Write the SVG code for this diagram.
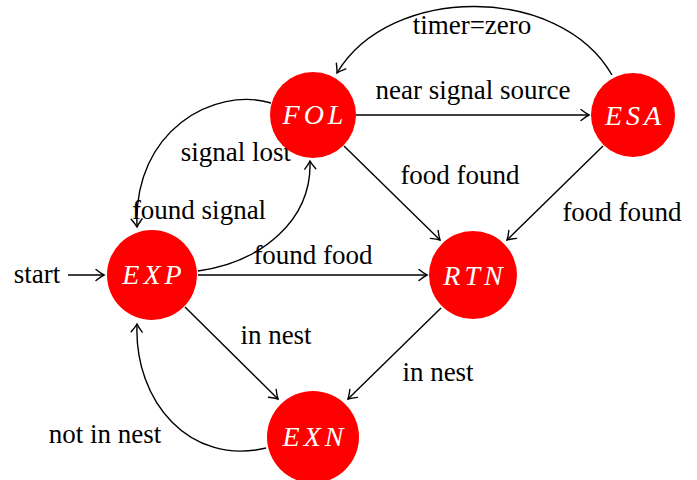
<svg xmlns="http://www.w3.org/2000/svg" width="697" height="480" viewBox="0 0 697 480">
<style>
.n{fill:#ff0000}
.nt{fill:#fff;font-family:'Liberation Serif',serif;font-style:italic;font-size:28px;letter-spacing:4px;text-anchor:middle}
.e{fill:none;stroke:#000;stroke-width:1.4;marker-end:url(#a)}
.l{fill:#000;font-family:'Liberation Serif',serif;font-size:27px;text-anchor:middle}
</style>
<defs>
<marker id="a" markerUnits="userSpaceOnUse" markerWidth="14" markerHeight="14" viewBox="-10 -7 12 14" refX="0" refY="0" orient="auto">
<path d="M-8,-5.5 Q-3,-1.5 0,0 Q-3,1.5 -8,5.5" fill="none" stroke="#000" stroke-width="1.4" stroke-linecap="round"/>
</marker>
</defs>
<g id="edges">
<path class="e" d="M68,275 L104,275"/>
<path class="e" d="M198,275 L427,275"/>
<path class="e" d="M198,271 C262,262 312,220 310,161"/>
<path class="e" d="M271,103 C215,86 133,130 137,227"/>
<path class="e" d="M356,115 L589,115"/>
<path class="e" d="M612,75 C560,-16 390,-16 337,73"/>
<path class="e" d="M344,146 L440,240"/>
<path class="e" d="M603,146 L507,240"/>
<path class="e" d="M185,307 L278,399"/>
<path class="e" d="M441,308 L348,399"/>
<path class="e" d="M266,448 C190,466 134,402 137,324"/>
</g>
<g id="labels">
<text class="l" x="37" y="283">start</text>
<text class="l" x="313" y="264">found food</text>
<text class="l" x="236" y="161">signal lost</text>
<text class="l" x="199" y="219">found signal</text>
<text class="l" x="473" y="99">near signal source</text>
<text class="l" x="472" y="34">timer=zero</text>
<text class="l" x="460" y="184">food found</text>
<text class="l" x="622" y="221">food found</text>
<text class="l" x="276" y="344">in nest</text>
<text class="l" x="438" y="381">in nest</text>
<text class="l" x="105" y="443">not in nest</text>
</g>
<g id="FOL"><circle class="n" cx="313" cy="115" r="43"/><text class="nt" x="315" y="124">FOL</text></g>
<g id="ESA"><circle class="n" cx="633" cy="115" r="42"/><text class="nt" x="635" y="125">ESA</text></g>
<g id="EXP"><circle class="n" cx="152" cy="275" r="45"/><text class="nt" x="154" y="284">EXP</text></g>
<g id="RTN"><circle class="n" cx="473" cy="275" r="44"/><text class="nt" x="475" y="285">RTN</text></g>
<g id="EXN"><circle class="n" cx="313" cy="437" r="46"/><text class="nt" x="315" y="446">EXN</text></g>
</svg>
